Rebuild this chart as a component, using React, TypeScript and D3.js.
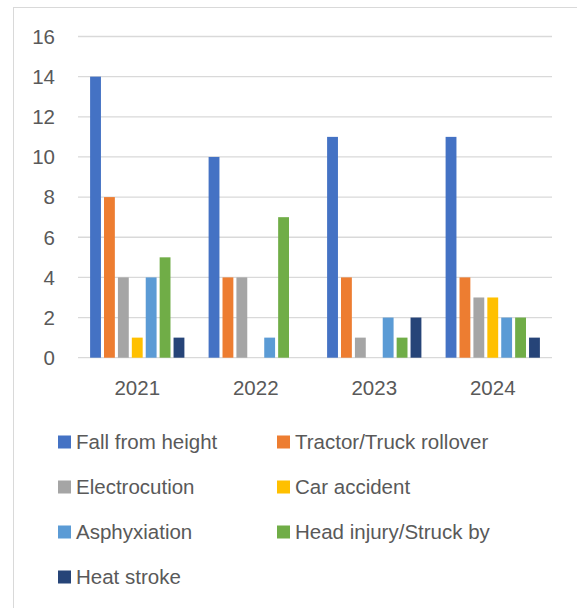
import { useEffect, useRef } from 'react';
import * as d3 from 'd3';

const years = ['2021', '2022', '2023', '2024'];
const causes = [
    'Fall from height',
    'Tractor/Truck rollover',
    'Electrocution',
    'Car accident',
    'Asphyxiation',
    'Head injury/Struck by',
    'Heat stroke',
];
const colors = ['#4472C4', '#ED7D31', '#A5A5A5', '#FFC000', '#5B9BD5', '#70AD47', '#264478'];

// values per cause, one entry per year
const fallFromHeight = [14, 10, 11, 11];
const tractorRollover = [8, 4, 4, 4];
const electrocution = [4, 4, 1, 3];
const carAccident = [1, 0, 0, 3];
const asphyxiation = [4, 1, 2, 2];
const headInjury = [5, 7, 1, 2];
const heatStroke = [1, 0, 2, 1];
const yTicks = [0, 2, 4, 6, 8, 10, 12, 14, 16];

const series = [fallFromHeight, tractorRollover, electrocution, carAccident, asphyxiation, headInjury, heatStroke];

const FONT = '"Liberation Sans", Arial, sans-serif';
const FS = 20.5;
const TEXT = '#595959';

const App: React.FC = () => {
    const svgRef = useRef<SVGSVGElement>(null);

    useEffect(() => {
        if (!svgRef.current) return;
        const svg = d3.select(svgRef.current);
        svg.selectAll('*').remove();

        // chart frame, only top and left edges fall inside the window
        svg.append('rect')
            .attr('x', 13.5).attr('y', 7.5)
            .attr('width', 600).attr('height', 640)
            .attr('fill', '#fff')
            .attr('stroke', '#D9D9D9');

        const left = 78, right = 552, top = 36.5, bottom = 357.7;

        const y = d3.scaleLinear().domain([0, 16]).range([bottom, top]);
        const x0 = d3.scaleBand().domain(years).range([left, right]);
        const x1 = d3.scaleBand().domain(causes).range([0, x0.bandwidth()])
            .paddingInner(0.22).paddingOuter(0.87);

        svg.append('g').selectAll('line')
            .data(yTicks)
            .join('line')
            .attr('x1', left).attr('x2', right)
            .attr('y1', d => y(d)).attr('y2', d => y(d))
            .attr('stroke', '#D9D9D9').attr('stroke-width', 1.3);

        svg.append('g').selectAll('text')
            .data(yTicks)
            .join('text')
            .attr('x', 55).attr('y', d => y(d))
            .attr('dy', '0.36em')
            .attr('text-anchor', 'end')
            .attr('font-family', FONT).attr('font-size', FS)
            .attr('fill', TEXT)
            .text(d => d);

        const groups = svg.append('g').selectAll('g')
            .data(years)
            .join('g')
            .attr('transform', d => `translate(${x0(d)},0)`);

        groups.selectAll('rect')
            .data((_, i) => causes.map((c, k) => ({ cause: c, value: series[k][i], color: colors[k] })))
            .join('rect')
            .attr('x', d => x1(d.cause)!)
            .attr('y', d => y(d.value))
            .attr('width', x1.bandwidth())
            .attr('height', d => bottom - y(d.value))
            .attr('fill', d => d.color);

        svg.append('g').selectAll('text')
            .data(years)
            .join('text')
            .attr('x', d => x0(d)! + x0.bandwidth() / 2)
            .attr('y', 388)
            .attr('dy', '0.36em')
            .attr('text-anchor', 'middle')
            .attr('font-family', FONT).attr('font-size', FS)
            .attr('fill', TEXT)
            .text(d => d);

        const legend = svg.append('g').selectAll('g')
            .data(causes)
            .join('g')
            .attr('transform', (_, i) => `translate(${i % 2 === 0 ? 58 : 277},${442 + Math.floor(i / 2) * 45})`);

        legend.append('rect')
            .attr('x', 0).attr('y', -6.5)
            .attr('width', 13).attr('height', 13)
            .attr('fill', (_, i) => colors[i]);

        legend.append('text')
            .attr('x', 18).attr('y', 0)
            .attr('dy', '0.36em')
            .attr('font-family', FONT).attr('font-size', FS)
            .attr('fill', TEXT)
            .text(d => d);
    }, []);

    return (
        <svg ref={svgRef} width={577} height={608}
            style={{ position: 'absolute', left: 0, top: 0, display: 'block' }} />
    );
};

export default App;
